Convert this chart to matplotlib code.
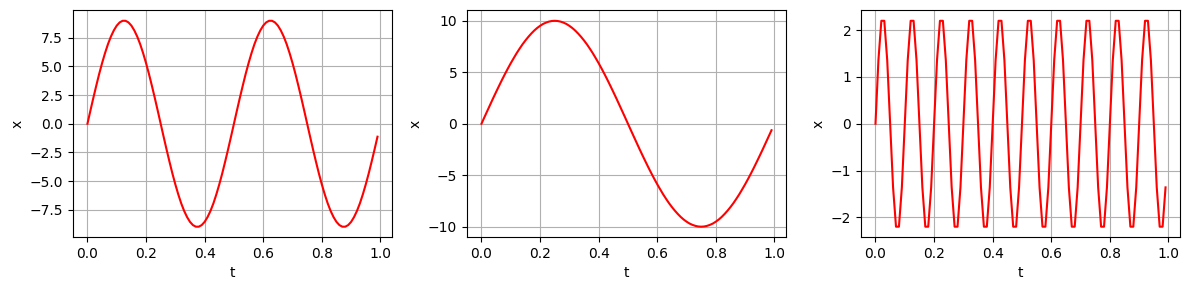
import numpy as np
import matplotlib
matplotlib.use("Agg")
import matplotlib.pyplot as plt
from matplotlib.ticker import MultipleLocator

# sample times
t = np.round(np.arange(0, 1.0, 0.01), 2)

# signal 1 (2 Hz, amp ~9)
x1 = [0.0, 1.13, 2.24, 3.31, 4.34, 5.29, 6.16, 6.94, 7.60, 8.14,
      8.56, 8.84, 8.98, 8.98, 8.84, 8.56, 8.14, 7.60, 6.94, 6.16,
      5.29, 4.34, 3.31, 2.24, 1.13, 0.0, -1.13, -2.24, -3.31, -4.34,
      -5.29, -6.16, -6.94, -7.60, -8.14, -8.56, -8.84, -8.98, -8.98, -8.84,
      -8.56, -8.14, -7.60, -6.94, -6.16, -5.29, -4.34, -3.31, -2.24, -1.13,
      0.0, 1.13, 2.24, 3.31, 4.34, 5.29, 6.16, 6.94, 7.60, 8.14,
      8.56, 8.84, 8.98, 8.98, 8.84, 8.56, 8.14, 7.60, 6.94, 6.16,
      5.29, 4.34, 3.31, 2.24, 1.13, 0.0, -1.13, -2.24, -3.31, -4.34,
      -5.29, -6.16, -6.94, -7.60, -8.14, -8.56, -8.84, -8.98, -8.98, -8.84,
      -8.56, -8.14, -7.60, -6.94, -6.16, -5.29, -4.34, -3.31, -2.24, -1.13]

# signal 2 (1 Hz, amp ~10)
x2 = [0.0, 0.63, 1.25, 1.87, 2.49, 3.09, 3.68, 4.26, 4.82, 5.36,
      5.88, 6.37, 6.85, 7.29, 7.71, 8.09, 8.44, 8.76, 9.05, 9.30,
      9.51, 9.69, 9.82, 9.92, 9.98, 10.0, 9.98, 9.92, 9.82, 9.69,
      9.51, 9.30, 9.05, 8.76, 8.44, 8.09, 7.71, 7.29, 6.85, 6.37,
      5.88, 5.36, 4.82, 4.26, 3.68, 3.09, 2.49, 1.87, 1.25, 0.63,
      0.0, -0.63, -1.25, -1.87, -2.49, -3.09, -3.68, -4.26, -4.82, -5.36,
      -5.88, -6.37, -6.85, -7.29, -7.71, -8.09, -8.44, -8.76, -9.05, -9.30,
      -9.51, -9.69, -9.82, -9.92, -9.98, -10.0, -9.98, -9.92, -9.82, -9.69,
      -9.51, -9.30, -9.05, -8.76, -8.44, -8.09, -7.71, -7.29, -6.85, -6.37,
      -5.88, -5.36, -4.82, -4.26, -3.68, -3.09, -2.49, -1.87, -1.25, -0.63]

# signal 3 (10 Hz, amp ~2.3)
x3 = [0.0, 1.36, 2.20, 2.20, 1.36, 0.0, -1.36, -2.20, -2.20, -1.36,
      0.0, 1.36, 2.20, 2.20, 1.36, 0.0, -1.36, -2.20, -2.20, -1.36,
      0.0, 1.36, 2.20, 2.20, 1.36, 0.0, -1.36, -2.20, -2.20, -1.36,
      0.0, 1.36, 2.20, 2.20, 1.36, 0.0, -1.36, -2.20, -2.20, -1.36,
      0.0, 1.36, 2.20, 2.20, 1.36, 0.0, -1.36, -2.20, -2.20, -1.36,
      0.0, 1.36, 2.20, 2.20, 1.36, 0.0, -1.36, -2.20, -2.20, -1.36,
      0.0, 1.36, 2.20, 2.20, 1.36, 0.0, -1.36, -2.20, -2.20, -1.36,
      0.0, 1.36, 2.20, 2.20, 1.36, 0.0, -1.36, -2.20, -2.20, -1.36,
      0.0, 1.36, 2.20, 2.20, 1.36, 0.0, -1.36, -2.20, -2.20, -1.36,
      0.0, 1.36, 2.20, 2.20, 1.36, 0.0, -1.36, -2.20, -2.20, -1.36]

fig, axes = plt.subplots(1, 3, figsize=(11.88, 2.9), dpi=100)
for ax, x in zip(axes, [x1, x2, x3]):
    ax.plot(t, x, color='red')
    ax.set_xlabel('t')
    ax.set_ylabel('x')
    ax.grid(True)

axes[0].yaxis.set_major_locator(MultipleLocator(2.5))

plt.subplots_adjust(left=0.0614, right=0.9933, top=0.9638, bottom=0.1828, wspace=0.235)
plt.savefig("out.png", dpi=100)
